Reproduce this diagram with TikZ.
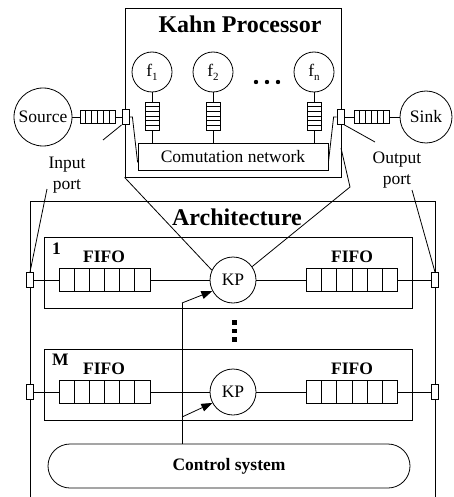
\documentclass[tikz,border=0pt]{standalone}
\usepackage{fontspec}
\setmainfont{Liberation Serif}
\usetikzlibrary{arrows.meta,calc}

\newcommand\fsub[1]{\raisebox{-4pt}{\fontsize{11}{11}\selectfont #1}}

\tikzset{
  every node/.style={font=\fontsize{17.5}{21}\selectfont},
  boldtxt/.style={font=\fontsize{17.5}{21}\selectfont\bfseries},
  title/.style={font=\fontsize{24}{26}\selectfont\bfseries},
  proc/.style={circle, draw, inner sep=0pt},
  port/.style={draw, fill=white, inner sep=0pt, minimum width=7pt, minimum height=15pt},
  hcells/.style={path picture={\foreach \k in {1,...,#1}{\draw ($(path picture bounding box.south west)!{\k/(#1+1)}!(path picture bounding box.south east)$) -- ($(path picture bounding box.north west)!{\k/(#1+1)}!(path picture bounding box.north east)$);}}},
  vcells/.style={path picture={\foreach \k in {1,...,#1}{\draw ($(path picture bounding box.south west)!{\k/(#1+1)}!(path picture bounding box.north west)$) -- ($(path picture bounding box.south east)!{\k/(#1+1)}!(path picture bounding box.north east)$);}}},
  fifo/.style={draw, inner sep=0pt, minimum width=91pt, minimum height=23pt, hcells=5},
  hq/.style={draw, inner sep=0pt, minimum width=35pt, minimum height=13pt, hcells=5},
  vq/.style={draw, inner sep=0pt, minimum width=14pt, minimum height=28pt, vcells=5},
  ctl/.style={-{Triangle[length=11pt,width=8pt]}}
}

\begin{document}
\begin{tikzpicture}[x=1pt,y=-1pt,line width=0.8pt]
\useasboundingbox (0,0) rectangle (453,497);

\node[draw, inner sep=0pt, minimum width=216pt, minimum height=169pt] (kahn) at (233,92.5) {};
\node[title, anchor=base] (kahnT) at (240,33) {Kahn Processor};
\node[proc, minimum size=40pt] (f1) at (152,72) {f\fsub{1}};
\node[proc, minimum size=40pt] (f2) at (213,72) {f\fsub{2}};
\node[proc, minimum size=40pt] (fn) at (314,72) {f\fsub{n}};
\foreach \x in {256,267,278} \fill (\x,82) circle (2.2pt);
\node[draw, inner sep=0pt, minimum width=190pt, minimum height=27pt] (comm) at (233,156.5) {Comutation network};
\foreach \f in {f1,f2,fn}{
  \node[vq] (q\f) at (\f |- 0,116) {};
  \draw (\f) -- (q\f);
  \draw (q\f) -- (q\f |- comm.north);
}

\node[proc, minimum size=58pt] (src) at (43,117) {Source};
\node[hq] (srcQ) at (97.5,117) {};
\node[port] (inP) at (125.5,117) {};
\node[port] (outP) at (340.5,117) {};
\node[hq] (sinkQ) at (371.5,117) {};
\node[proc, minimum size=52pt] (sink) at (426,117) {Sink};
\draw (src) -- (srcQ) -- (inP);
\draw (outP) -- (sinkQ) -- (sink);
\draw (inP.east) -- ++(3,0) -- ($(comm.south west)+(0,-8)$);
\draw (outP.west) -- ++(-3,0) -- ($(comm.south east)+(0,-8)$);

\node[align=center] (inL) at (67,175) {Input\\port};
\node[align=center] (outL) at (397,170) {Output\\port};
\coordinate (inLa) at (103,140);
\coordinate (inLb) at (47,189);
\coordinate (outLa) at (375,142);
\coordinate (outLb) at (412,190);
\draw (inP.south west) -- (inLa);
\draw (outP.south east) -- (outLa);

\draw (30,497) -- (30,201) -- (435,201) -- (435,497);
\node[title, anchor=base] (archT) at (237,225) {Architecture};

\foreach \r/\y/\lab in {1/280/1, 2/392/M}{
  \node[draw, inner sep=0pt, minimum width=368pt, minimum height=71pt] (row\r) at (228,\y-7) {};
  \node[boldtxt, anchor=north west, inner sep=0pt] (num\r) at ($(row\r.north west)+(8,5)$) {\lab};
  \node[boldtxt] (fla\r) at (104,\y-23) {FIFO};
  \node[boldtxt] (flb\r) at (352,\y-23) {FIFO};
  \node[fifo] (ffa\r) at (104.5,\y) {};
  \node[fifo] (ffb\r) at (352,\y) {};
  \node[proc, minimum size=46pt] (kp\r) at (233,\y) {KP};
  \node[port] (apl\r) at (30,\y) {};
  \node[port] (apr\r) at (435,\y) {};
  \draw (apl\r) -- (ffa\r) -- (kp\r) -- (ffb\r) -- (apr\r);
}
\foreach \yy in {320,328.5,337} \fill (232,\yy) rectangle ++(4.5,4.5);

\draw (inLb) -- (apl1.north);
\draw (outLb) -- (apr1.north);

\draw (kahn.south west) -- (kp1.155);
\coordinate (zr1) at (350,187);
\coordinate (zr2) at (341,148);
\draw (kp1.35) -- (zr1) -- (zr2);

\node[draw, rounded corners=22pt, inner sep=0pt, minimum width=362pt, minimum height=44pt, boldtxt] (ctrl) at (229,466) {Control system};
\coordinate (cb1) at (182,303);
\coordinate (cb2) at (182,417);
\draw (ctrl.north -| cb1) -- (cb1);
\draw[ctl] (cb1) -- (kp1.208);
\draw[ctl] (cb2) -- (kp2.208);

\end{tikzpicture}
\end{document}
